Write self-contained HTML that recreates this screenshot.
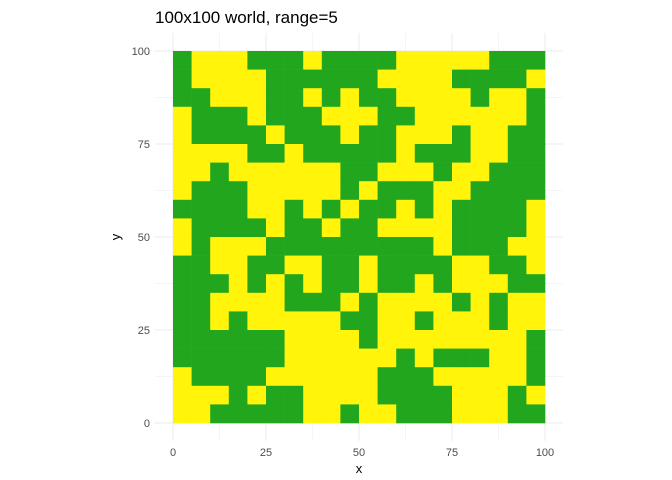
<!DOCTYPE html>
<html><head><meta charset="utf-8"><style>
body{margin:0;background:#fff}
svg{display:block;font-family:"Liberation Sans",sans-serif}
</style></head><body>
<svg id="chart" width="672" height="480">
<text x="155" y="23" font-size="17" fill="#000">100x100 world, range=5</text>
<g id="grid"></g>
<g id="cells"></g>
<g id="ticks"></g>
<text x="359" y="473" font-size="13" text-anchor="middle" fill="#000">x</text>
<text x="120" y="237" font-size="13" text-anchor="middle" fill="#000" transform="rotate(-90 120 237)">y</text>
</svg>
<script>
// rows from top (y=100) to bottom (y=0); each char = 5x5 block, 1=green, 0=yellow
const gridRows = [
"10001110111100000111","10000111111000011110","11000110101100001001","01110111000110000001",
"01111011101100010011","00001101111101110011","00100000011000100111","01110000010111001111",
"11110010101101011110","01111011011000011110",
"01000111111111011100","11001100110111100110","11101010110110100011","11000011101000010100",
"11010000011001000100","11111100001000000001","11111100000010111001","01111000000111000001",
"00010110000111100010","00111110010011100011"];
const tickVals = [0,25,50,75,100];
const tickLabels = ["0","25","50","75","100"];
const cellSize = 5;
const NS="http://www.w3.org/2000/svg";
const sx=v=>173+v*3.72, sy=v=>423-v*3.72;
const grid=document.getElementById('grid'), cells=document.getElementById('cells'), ticks=document.getElementById('ticks');
function ln(x1,y1,x2,y2,w){const l=document.createElementNS(NS,'line');l.setAttribute('x1',x1);l.setAttribute('y1',y1);l.setAttribute('x2',x2);l.setAttribute('y2',y2);l.setAttribute('stroke','#ebebeb');l.setAttribute('stroke-width',w);


grid.appendChild(l);}
for(let v=-12.5;v<=112.5;v+=12.5){const major=tickVals.includes(v);if(v<-5||v>105)continue;
ln(sx(v),33,sx(v),441,major?1:0.5);ln(155,sy(v),563,sy(v),major?1:0.5);}
const n=gridRows.length;
gridRows.forEach((row,r)=>{for(let c=0;c<row.length;c++){const rc=document.createElementNS(NS,'rect');
const x0=c*cellSize, y1=100-r*cellSize;
rc.setAttribute('x',sx(x0));rc.setAttribute('y',sy(y1));
rc.setAttribute('width',sx(x0+cellSize)-sx(x0)+0.3);rc.setAttribute('height',sy(y1-cellSize)-sy(y1)+0.3);
rc.setAttribute('fill',row[c]==='1'?'#21a61e':'#fff40a');


cells.appendChild(rc);}});
tickVals.forEach((v,i)=>{
const t=document.createElementNS(NS,'text');t.setAttribute('x',sx(v));t.setAttribute('y',456);t.setAttribute('font-size','11');t.setAttribute('fill','#4d4d4d');t.setAttribute('text-anchor','middle');t.textContent=tickLabels[i];


ticks.appendChild(t);
const u=document.createElementNS(NS,'text');u.setAttribute('x',150);u.setAttribute('y',sy(v)+4);u.setAttribute('font-size','11');u.setAttribute('fill','#4d4d4d');u.setAttribute('text-anchor','end');u.textContent=tickLabels[i];


ticks.appendChild(u);});
</script>
</body></html>
